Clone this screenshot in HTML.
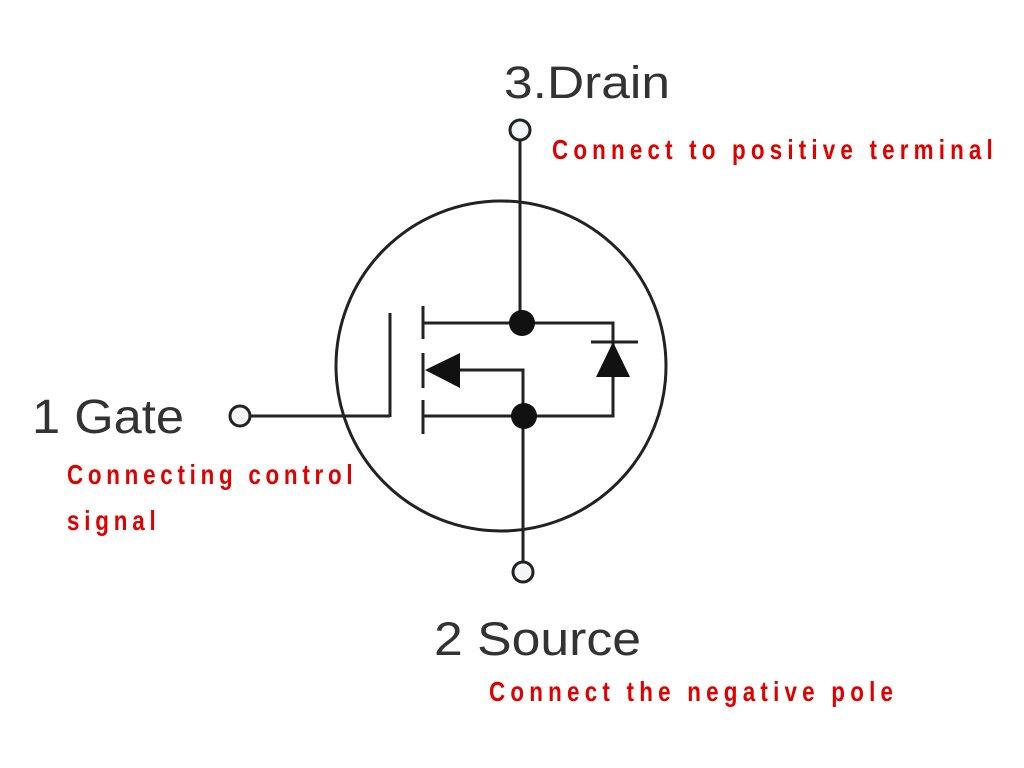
<!DOCTYPE html>
<html><head><meta charset="utf-8"><style>
html,body{margin:0;padding:0;background:#fff;}
svg{display:block;}
</style></head><body>
<svg width="1024" height="768" viewBox="0 0 1024 768" xmlns="http://www.w3.org/2000/svg">
<rect width="1024" height="768" fill="#fff"/>
<g stroke="#222" stroke-width="3" fill="none">
<circle cx="501" cy="366" r="165"/>
<line x1="520" y1="140" x2="520" y2="323"/>
<circle cx="520" cy="130" r="10" fill="#f4f6f8"/>
<line x1="523" y1="416" x2="523" y2="562"/>
<circle cx="523" cy="572" r="10" fill="#f4f6f8"/>
<circle cx="240" cy="416" r="10" fill="#f4f6f8"/>
<line x1="250" y1="416" x2="390" y2="416"/>
<line x1="390" y1="313" x2="390" y2="417"/>
<line x1="423" y1="306" x2="423" y2="339"/>
<line x1="423" y1="353" x2="423" y2="388"/>
<line x1="423" y1="400" x2="423" y2="434"/>
<polyline points="423,323 613,323 613,416 423,416"/>
<polyline points="455,370 523,370 523,416"/>
<line x1="591" y1="342" x2="638" y2="342"/>
</g>
<g fill="#111">
<circle cx="522" cy="323" r="13"/>
<circle cx="524" cy="416" r="13"/>
<polygon points="425,370 460,353 460,388"/>
<polygon points="613,342 596,377 630,377"/>
</g>
<g font-family="Liberation Sans, Arial, sans-serif" fill="#333">
<text x="504" y="98" font-size="45" textLength="166" lengthAdjust="spacingAndGlyphs">3.Drain</text>
<text x="32" y="433" font-size="48" textLength="152" lengthAdjust="spacingAndGlyphs">1 Gate</text>
<text x="434" y="655" font-size="47" textLength="207" lengthAdjust="spacingAndGlyphs">2 Source</text>
</g>
<g font-family="Liberation Sans, Arial, sans-serif" font-weight="bold" fill="#e00000" font-size="28">
<text transform="translate(552,159) scale(0.8,1)" x="0" y="0" textLength="551" lengthAdjust="spacing">Connect to positive terminal</text>
<text transform="translate(67,484) scale(0.8,1)" x="0" y="0" textLength="357" lengthAdjust="spacing">Connecting control</text>
<text transform="translate(67,530) scale(0.8,1)" x="0" y="0" textLength="111" lengthAdjust="spacing">signal</text>
<text transform="translate(489,701) scale(0.8,1)" x="0" y="0" textLength="505" lengthAdjust="spacing">Connect the negative pole</text>
</g>
</svg>
</body></html>
